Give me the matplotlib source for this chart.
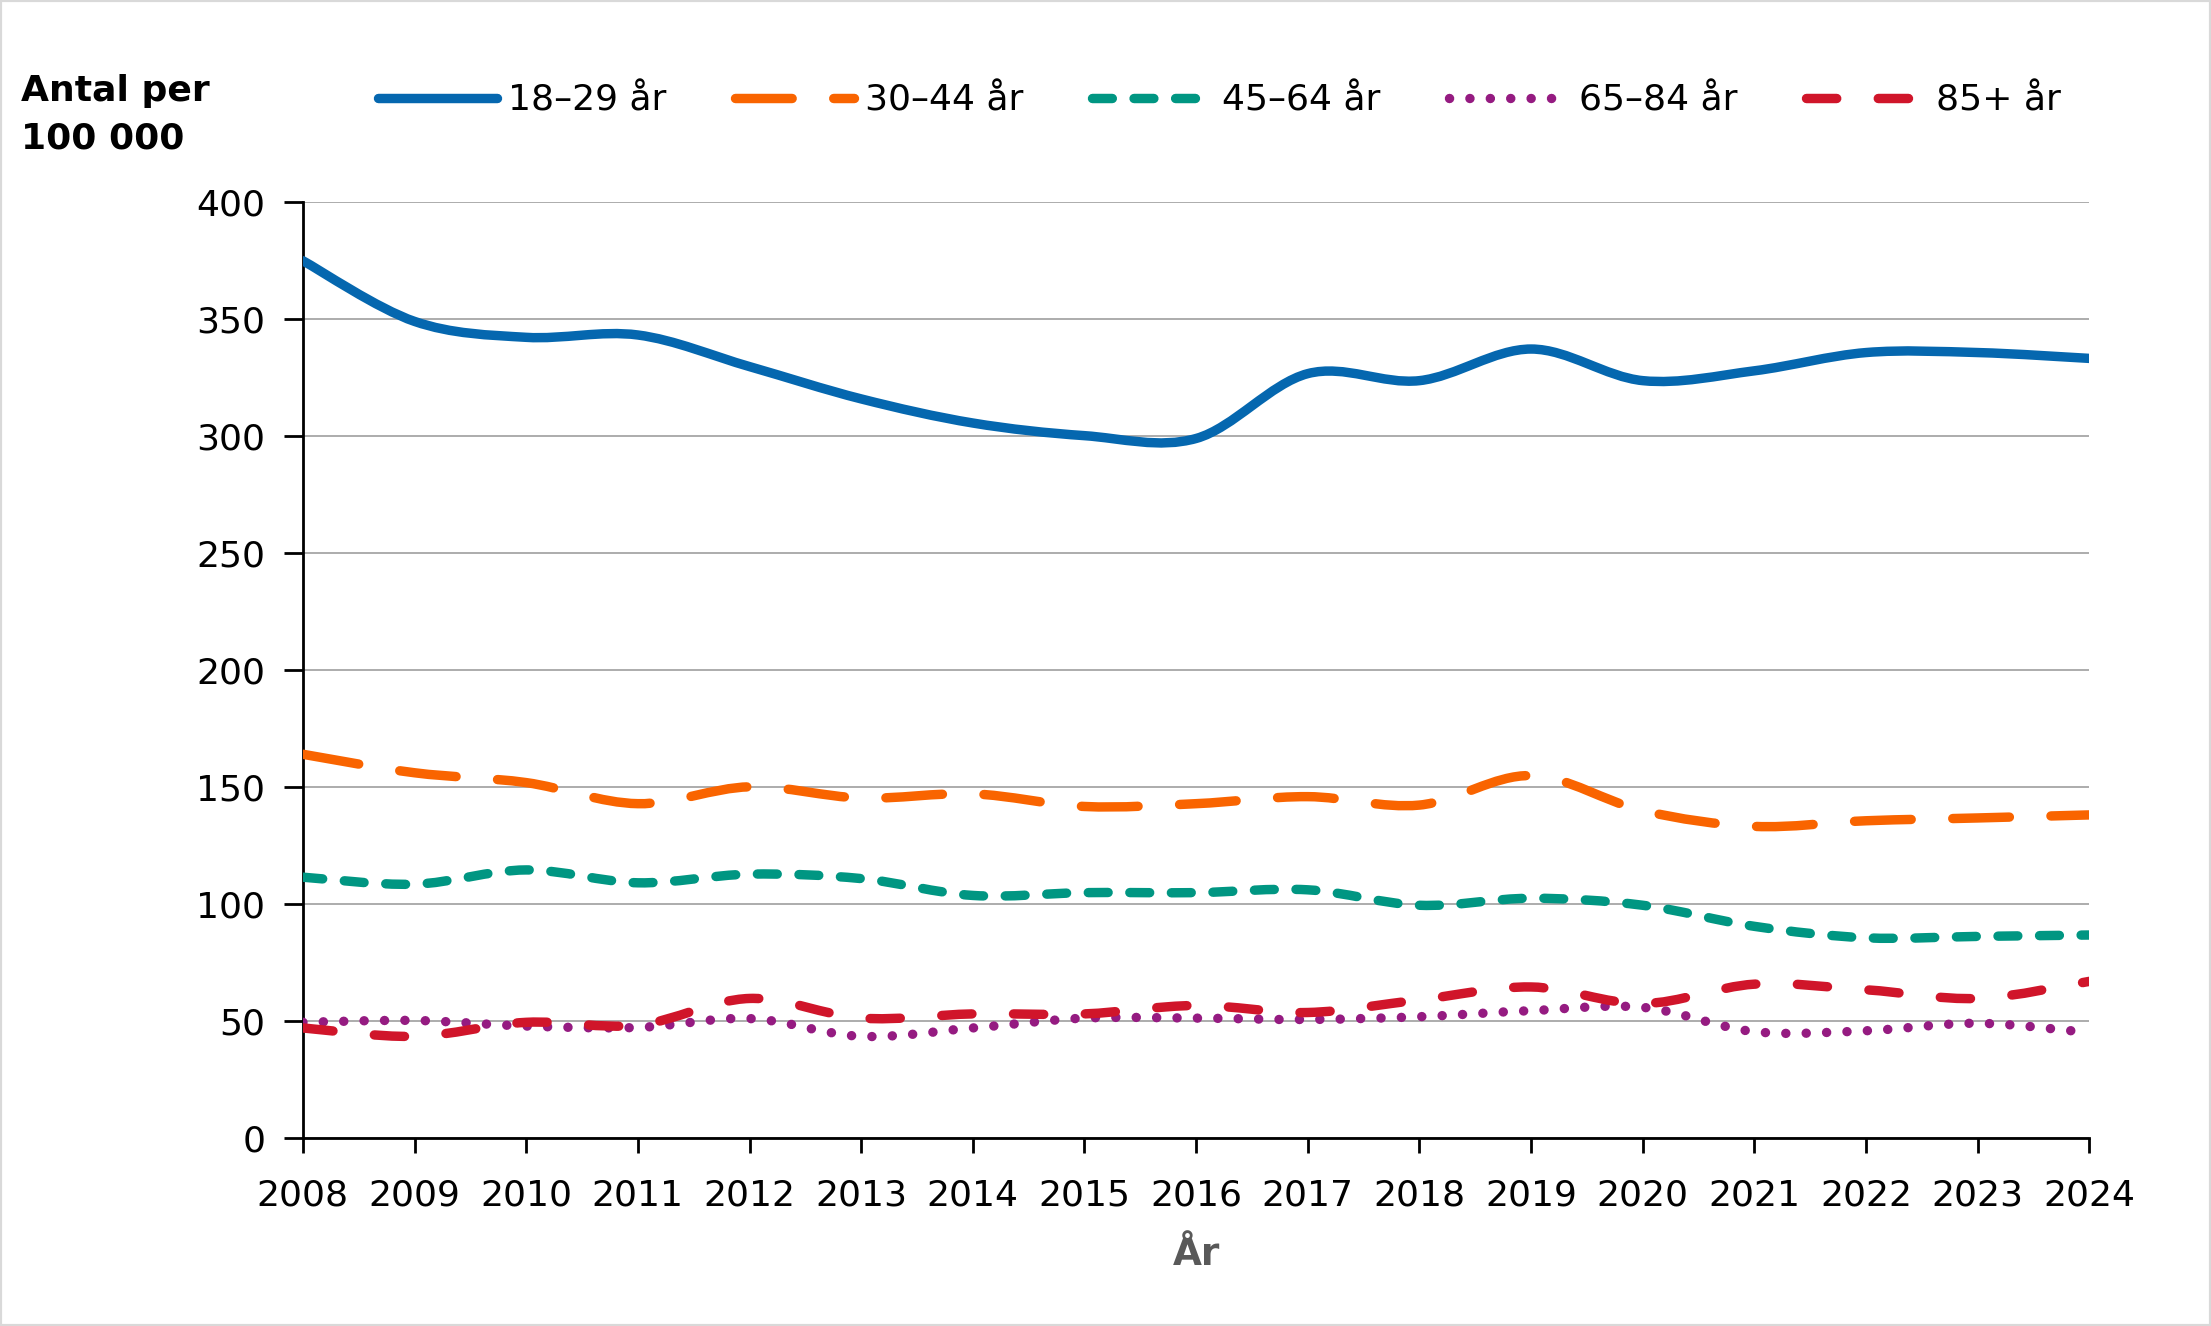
import matplotlib
matplotlib.use("Agg")
import matplotlib.pyplot as plt
from matplotlib.path import Path
from matplotlib.patches import PathPatch, Rectangle
from matplotlib.lines import Line2D

plt.rcParams['font.family'] = ['DejaVu Sans']

years = list(range(2008, 2025))

# antal per 100 000 invånare, per åldersgrupp
v18_29 = [374.7, 348.8, 342.0, 343.0, 329.5, 315.7, 305.4, 300.0, 298.8,
          326.5, 323.5, 337.0, 323.5, 327.7, 335.5, 335.5, 333.0]
v30_44 = [163.9, 156.0, 151.8, 142.8, 150.0, 145.2, 147.0, 141.6, 142.8,
          145.8, 142.2, 154.8, 139.8, 133.1, 135.5, 136.7, 138.0]
v45_64 = [111.4, 108.4, 114.5, 109.0, 112.7, 110.8, 103.6, 104.8, 104.8,
          106.0, 99.4, 102.4, 99.4, 90.4, 85.5, 86.1, 86.7]
v65_84 = [49.4, 50.2, 47.8, 47.2, 51.0, 43.4, 47.0, 51.2, 51.2,
          50.6, 51.8, 54.4, 55.8, 45.4, 45.8, 49.0, 45.0]
v85 = [47.0, 43.4, 49.4, 48.2, 59.6, 51.2, 53.0, 53.0, 56.6,
       53.6, 59.0, 64.5, 57.4, 65.7, 63.3, 59.6, 66.9]

labels = ['18–29 år', '30–44 år', '45–64 år', '65–84 år', '85+ år']
series = [v18_29, v30_44, v45_64, v65_84, v85]
colors = ['#0567AF', '#F96400', '#009682', '#951B81', '#D0152A']
styles = ['-', (0, (6.0, 4.4)), (0, (2.1, 2.3)), (0, (0.01, 2.15)), (0, (3.2, 4.4))]


def smooth_path(xs, ys):
    # Excel-liknande utjämnad linje, kubiska bezier-segment
    n = len(xs)
    verts = [(xs[0], ys[0])]
    codes = [Path.MOVETO]
    for i in range(n - 1):
        i0 = max(i - 1, 0)
        i3 = min(i + 2, n - 1)
        c1 = (xs[i] + (xs[i + 1] - xs[i0]) / 6, ys[i] + (ys[i + 1] - ys[i0]) / 6)
        c2 = (xs[i + 1] - (xs[i3] - xs[i]) / 6, ys[i + 1] - (ys[i3] - ys[i]) / 6)
        verts += [c1, c2, (xs[i + 1], ys[i + 1])]
        codes += [Path.CURVE4] * 3
    return Path(verts, codes)


fig = plt.figure(figsize=(22.11, 13.26), dpi=100)
ax = fig.add_axes([0.137, 0.1418, 0.808, 0.7062])

lw = 6.8
handles = []
for vals, lab, col, ls in zip(series, labels, colors, styles):
    p = PathPatch(smooth_path(years, vals), fill=False, edgecolor=col,
                  linewidth=lw, linestyle=ls, capstyle='round', joinstyle='round',
                  zorder=3)
    ax.add_patch(p)
    handles.append(Line2D([], [], color=col, lw=lw, linestyle=ls,
                          dash_capstyle='round', solid_capstyle='round'))

ax.set_xlim(2008, 2024)
ax.set_ylim(0, 400)
ax.set_xticks(years)
ax.set_yticks(range(0, 401, 50))
ax.yaxis.grid(True, color='#A6A6A6', linewidth=1.3)
ax.set_axisbelow(True)
for s in ['top', 'right']:
    ax.spines[s].set_visible(False)
ax.spines['left'].set_linewidth(2)
ax.spines['bottom'].set_linewidth(2)
ax.tick_params(axis='both', labelsize=26, width=2, length=14, direction='out',
               colors='black', pad=13)
ax.tick_params(axis='x', length=11, pad=18)

ax.set_xlabel('År', fontsize=27, fontweight='bold', color='#595959', labelpad=18)

fig.text(0.0095, 0.944, 'Antal per\n100 000', fontsize=26, fontweight='bold',
         ha='left', va='top', linespacing=1.5)

fig.legend(handles, labels, loc='center left', bbox_to_anchor=(0.171, 0.924),
           ncol=5, frameon=False, fontsize=26, handlelength=3.3,
           handletextpad=0.3, columnspacing=1.9, borderpad=0, borderaxespad=0)

fig.patches.append(Rectangle((0, 0), 1, 1, transform=fig.transFigure, fill=False,
                             edgecolor='#D9D9D9', linewidth=3))

fig.savefig('out.png', dpi=100)
